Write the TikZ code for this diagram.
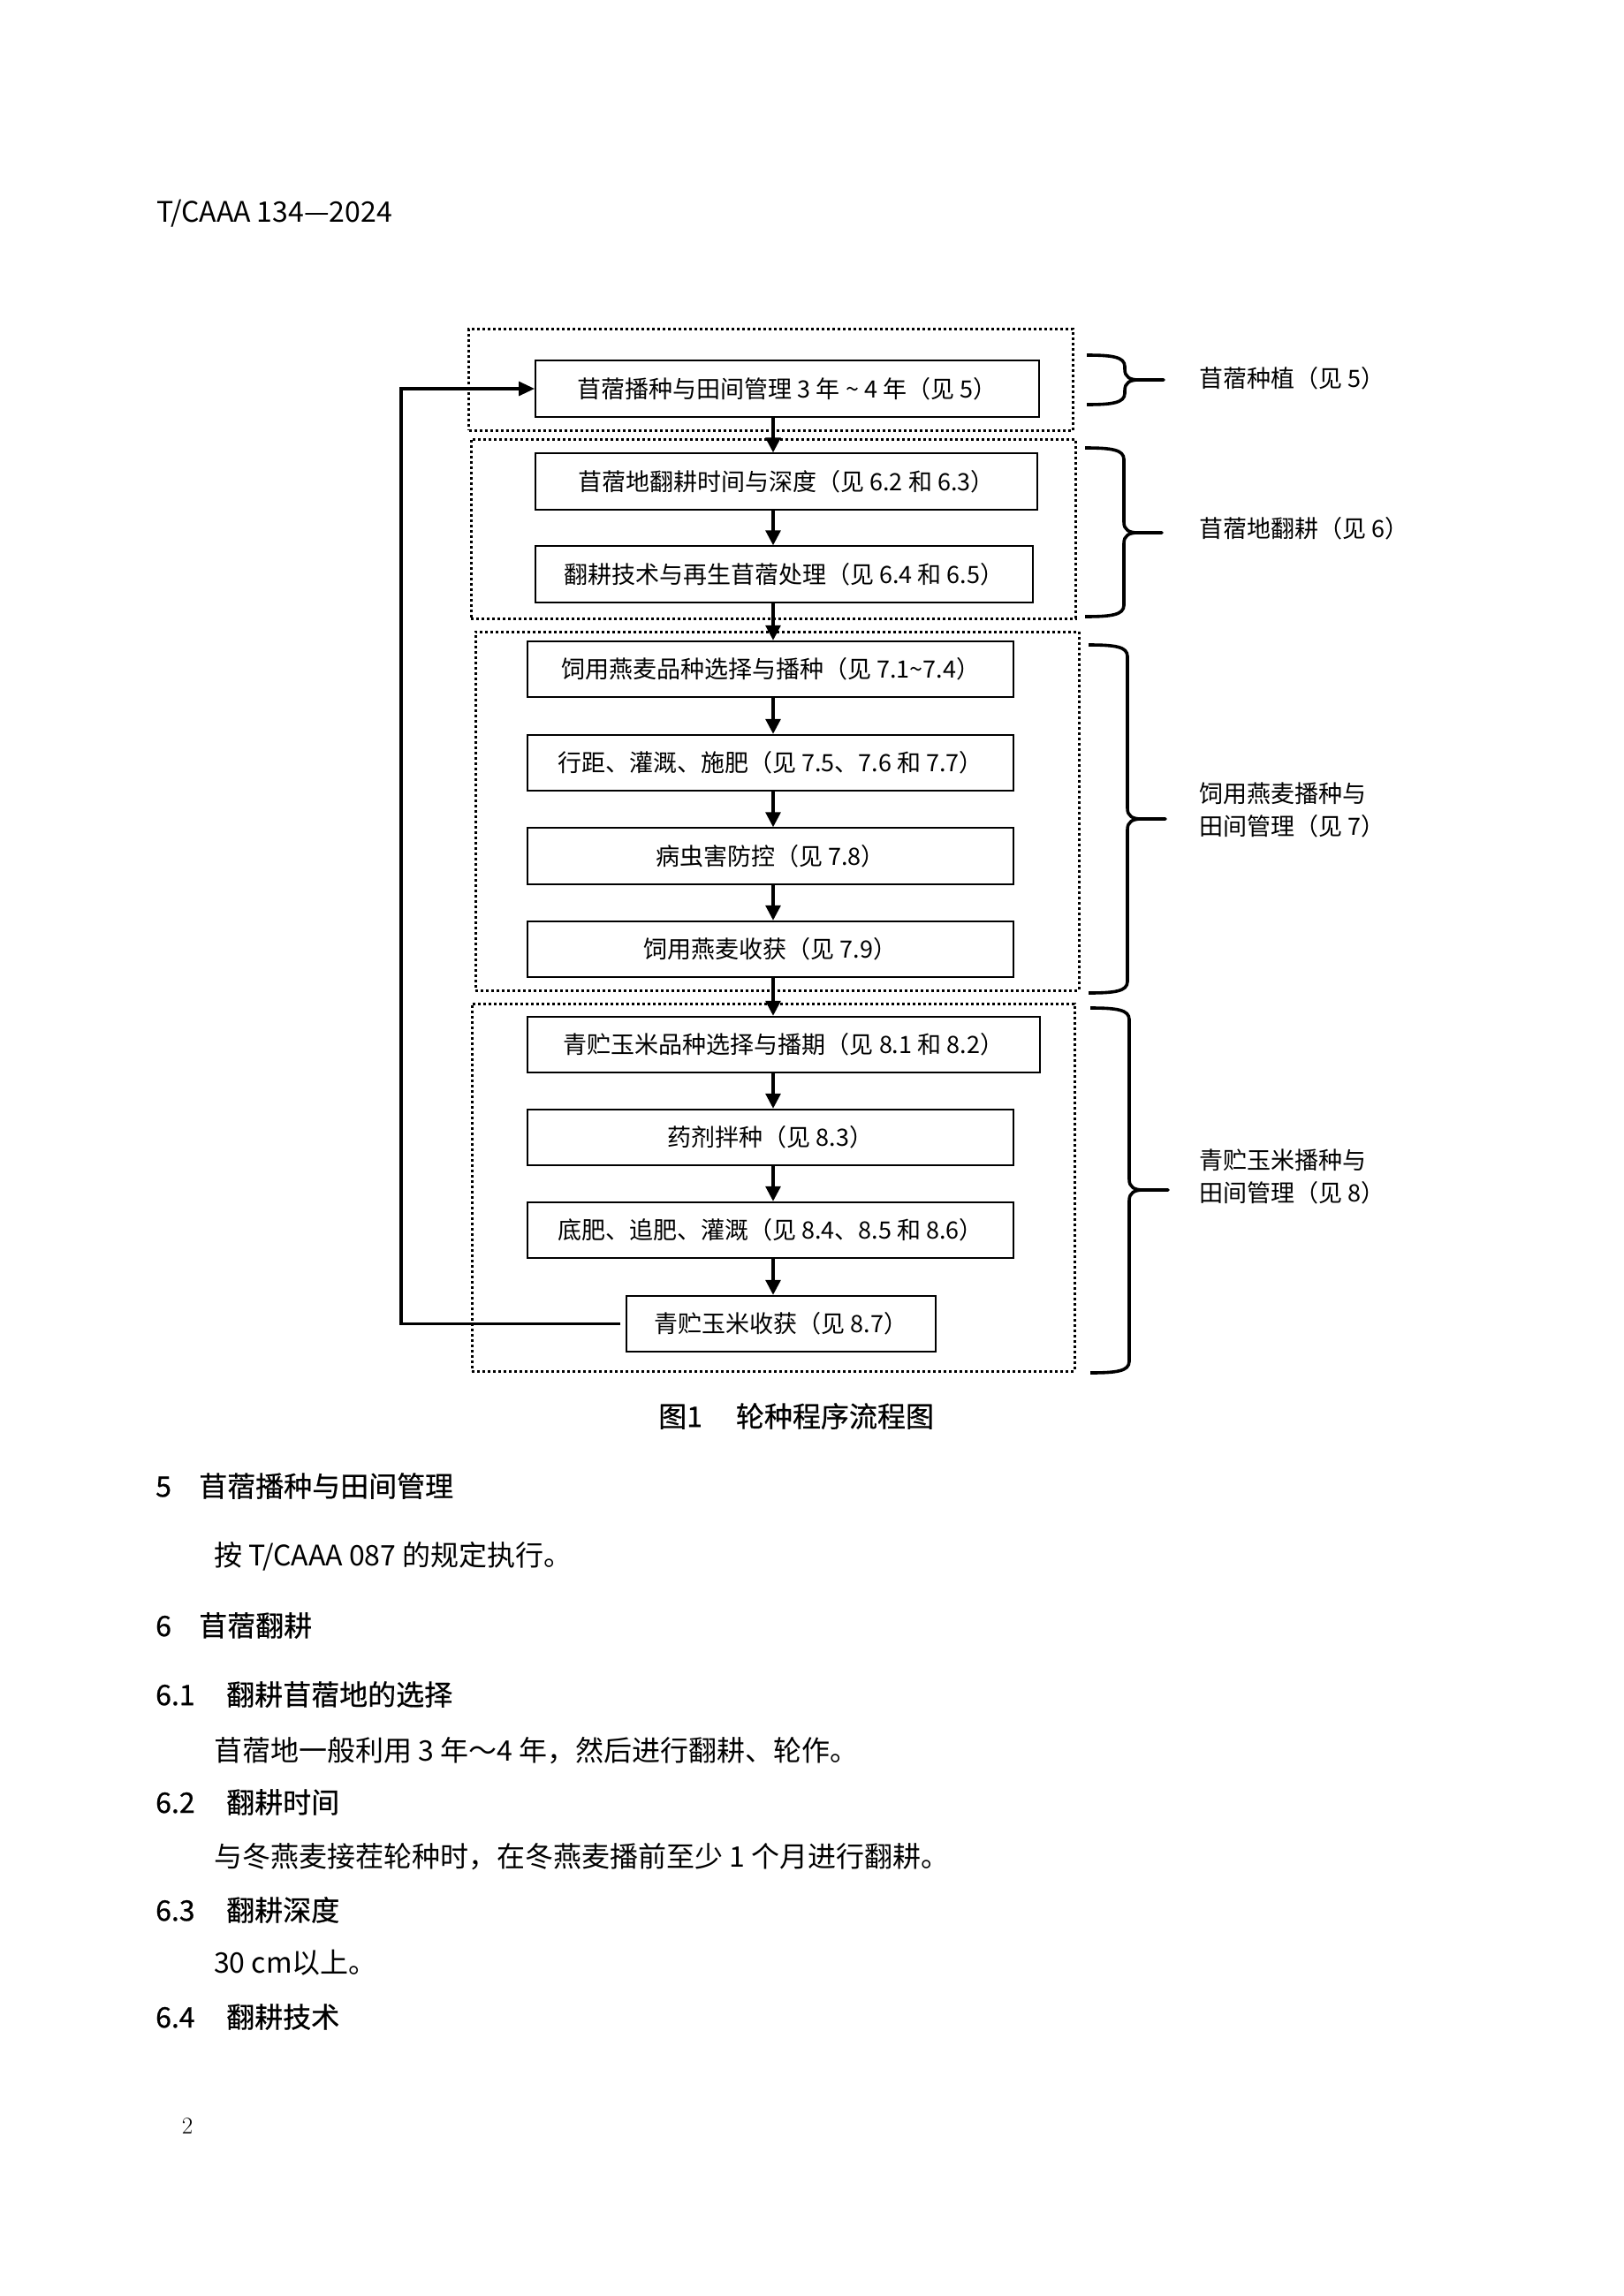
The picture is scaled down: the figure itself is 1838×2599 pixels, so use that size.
\documentclass[tikz,border=0pt]{standalone}
\usepackage{fontspec}
\newfontfamily\cjk{Noto Sans CJK SC}
\newfontfamily\cjkhei[FakeBold=0.6]{Noto Sans CJK SC}
\usetikzlibrary{arrows.meta}
\tikzset{
  stage/.style={draw, line width=2pt, minimum height=63.5pt, inner sep=0pt, font=\cjk\fontsize{27}{32}\selectfont},
  group/.style={draw, line width=3pt, dash pattern=on 3pt off 3pt, inner sep=0pt},
  flow/.style={line width=3.2pt, -{Triangle[length=17pt,width=17pt]}},
  back/.style={line width=3.2pt, -{Triangle[length=18pt,width=16pt]}},
  bracket/.style={line width=3.6pt, line join=round},
  side/.style={anchor=west, align=left, inner sep=0pt, font=\cjk\fontsize{27}{37}\selectfont},
  body/.style={anchor=west, inner sep=0pt, font=\cjk\fontsize{32}{38}\selectfont},
  head/.style={anchor=west, inner sep=0pt, font=\cjkhei\fontsize{32}{38}\selectfont},
}
\newcommand{\grpbrace}[6]{%
  \draw[bracket] (#1,#4) .. controls (#2-14,#4) and (#2,#4+2) .. (#2,#4+13)
    -- (#2,#5-12) .. controls (#2,#5-3) and (#2+6,#5) .. (#2+16,#5) -- (#3,#5)
    -- (#2+16,#5) .. controls (#2+6,#5) and (#2,#5+3) .. (#2,#5+12)
    -- (#2,#6-13) .. controls (#2,#6-2) and (#2-14,#6) .. (#1,#6);}
\newcommand{\secno}[2]{\makebox[#1][l]{#2}}
\begin{document}
\begin{tikzpicture}[x=1pt, y=-1pt]
\path[use as bounding box, fill=white] (0,0) rectangle (1838,2599);
\node[anchor=west, inner sep=0pt, font=\cjk\fontsize{32}{38}\selectfont] (docno) at (177,242) {T/CAAA 134—2024};

\node[group, minimum width=683.5pt, minimum height=115pt] (g1) at (872.25,429.5) {};
\node[group, minimum width=684pt, minimum height=203pt] (g2) at (875,598.5) {};
\node[group, minimum width=683pt, minimum height=406pt] (g3) at (879.5,918) {};
\node[group, minimum width=682pt, minimum height=416pt] (g4) at (875,1344) {};

\node[stage, minimum width=570pt] (b1) at (891,440) {苜蓿播种与田间管理 3 年 \textasciitilde\ 4 年（见 5）};
\node[stage, minimum width=568pt] (b2) at (890,545) {苜蓿地翻耕时间与深度（见 6.2 和 6.3）};
\node[stage, minimum width=562.5pt] (b3) at (887.25,650) {翻耕技术与再生苜蓿处理（见 6.4 和 6.5）};
\node[stage, minimum width=550pt] (b4) at (872,757.5) {饲用燕麦品种选择与播种（见 7.1\textasciitilde 7.4）};
\node[stage, minimum width=550pt] (b5) at (872,863.5) {行距、灌溉、施肥（见 7.5、7.6 和 7.7）};
\node[stage, minimum width=550pt] (b6) at (872,969) {病虫害防控（见 7.8）};
\node[stage, minimum width=550pt] (b7) at (872,1074.5) {饲用燕麦收获（见 7.9）};
\node[stage, minimum width=580pt] (b8) at (887,1182.5) {青贮玉米品种选择与播期（见 8.1 和 8.2）};
\node[stage, minimum width=550pt] (b9) at (872,1287.5) {药剂拌种（见 8.3）};
\node[stage, minimum width=550pt] (b10) at (872,1392.5) {底肥、追肥、灌溉（见 8.4、8.5 和 8.6）};
\node[stage, minimum width=350pt] (b11) at (884,1498.5) {青贮玉米收获（见 8.7）};

\coordinate (axis) at (875,0);
\coordinate (ret) at (454,0);
\draw[flow] (b1.south -| axis) -- (b2.north -| axis);
\draw[flow] (b2.south -| axis) -- (b3.north -| axis);
\draw[flow] (b3.south -| axis) -- (b4.north -| axis);
\draw[flow] (b4.south -| axis) -- (b5.north -| axis);
\draw[flow] (b5.south -| axis) -- (b6.north -| axis);
\draw[flow] (b6.south -| axis) -- (b7.north -| axis);
\draw[flow] (b7.south -| axis) -- (b8.north -| axis);
\draw[flow] (b8.south -| axis) -- (b9.north -| axis);
\draw[flow] (b9.south -| axis) -- (b10.north -| axis);
\draw[flow] (b10.south -| axis) -- (b11.north -| axis);
\draw[back] ([xshift=-6pt]b11.west) -- (b11.west -| ret) -- (b1.west -| ret) -- (b1.west);

\grpbrace{1230}{1273}{1317}{402}{430}{458}
\grpbrace{1228}{1272}{1315}{507}{603}{698}
\grpbrace{1232}{1276}{1319}{730}{927}{1124}
\grpbrace{1234}{1278}{1322}{1141}{1347}{1554}
\node[side] (s1) at (1357,428) {苜蓿种植（见 5）};
\node[side] (s2) at (1357,598) {苜蓿地翻耕（见 6）};
\node[side] (s3) at (1357,916.5) {饲用燕麦播种与\\田间管理（见 7）};
\node[side] (s4) at (1357,1331.5) {青贮玉米播种与\\田间管理（见 8）};

\node[head] (cap) at (745,1603) {图1\hspace{38pt}轮种程序流程图};
\node[head] (h5) at (176,1682) {\secno{49pt}{5}苜蓿播种与田间管理};
\node[body] (t5) at (242,1762) {按 T/CAAA 087 的规定执行。};
\node[head] (h6) at (176,1840) {\secno{49pt}{6}苜蓿翻耕};
\node[head] (h61) at (176,1918) {\secno{80pt}{6.1}翻耕苜蓿地的选择};
\node[body] (t61) at (242,1982) {苜蓿地一般利用 3 年～4 年，然后进行翻耕、轮作。};
\node[head] (h62) at (176,2040) {\secno{80pt}{6.2}翻耕时间};
\node[body] (t62) at (242,2102) {与冬燕麦接茬轮种时，在冬燕麦播前至少 1 个月进行翻耕。};
\node[head] (h63) at (176,2162) {\secno{80pt}{6.3}翻耕深度};
\node[body] (t63) at (242,2222) {30 cm以上。};
\node[head] (h64) at (176,2283) {\secno{80pt}{6.4}翻耕技术};
\node[inner sep=0pt, font=\fontsize{27}{32}\selectfont] (pageno) at (212,2407) {2};
\end{tikzpicture}
\end{document}
